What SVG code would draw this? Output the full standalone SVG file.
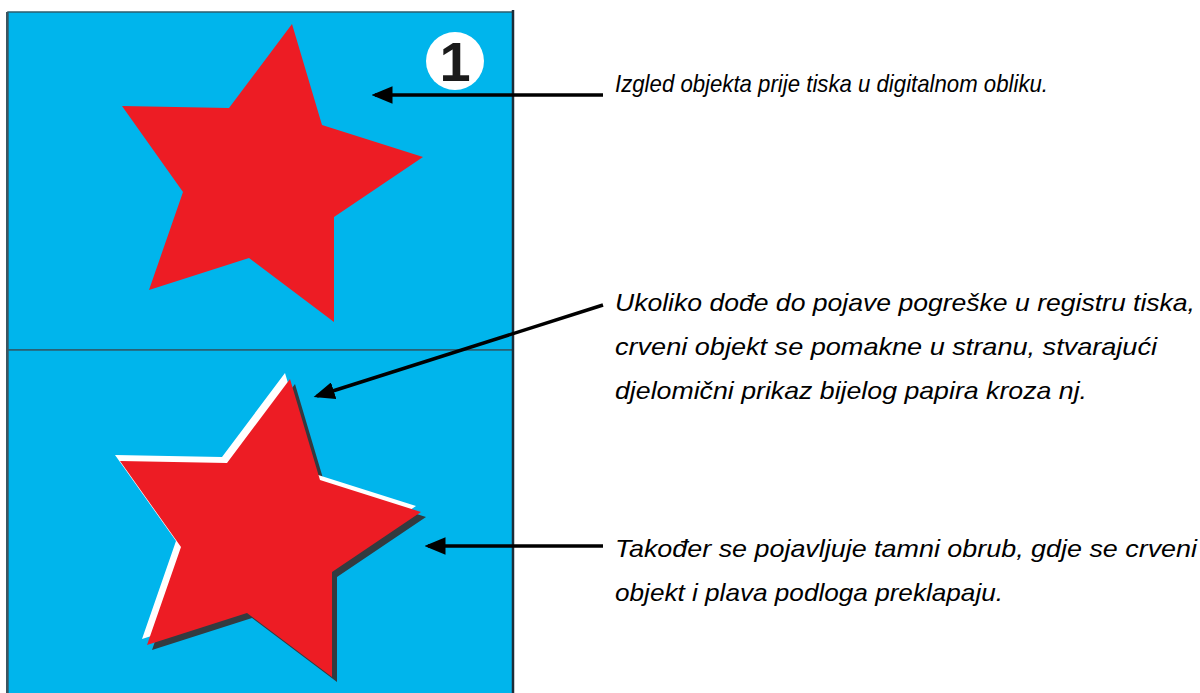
<svg xmlns="http://www.w3.org/2000/svg" width="1200" height="693" viewBox="0 0 1200 693">
  <defs>
    <style>
      .lbl { font-family: "Liberation Sans", Arial, sans-serif; font-style: italic; font-size: 24px; fill: #000; }
      .con { stroke: #000; stroke-width: 3.5; fill: none; }
      .red { fill: #ed1c24; }
    </style>
    <marker id="ah" markerWidth="6" markerHeight="5" refX="5" refY="2.5" orient="auto" markerUnits="strokeWidth">
      <path d="M0,0 L6,2.5 L0,5 Z" fill="#000"/>
    </marker>
    <polygon id="star" points="292,24 322,125 423,157 334,217 334,322 249,258 149,290 183,192 122,106 229,108"/>
  </defs>
  <rect width="1200" height="693" fill="#fff"/>

  <g id="panel-top">
    <rect x="8" y="12" width="505" height="338" fill="#00b5ec" stroke="#2d5d6e" stroke-width="1.5"/>
    <use href="#star" class="red"/>
    <g id="badge">
      <circle cx="455" cy="61" r="29" fill="#fff"/>
      <text x="455" y="81" text-anchor="middle" font-family="Liberation Sans, Arial, sans-serif" font-weight="bold" font-size="56" fill="#1a1a1a">1</text>
    </g>
  </g>

  <g id="panel-bottom">
    <rect x="8" y="350" width="505" height="350" fill="#00b5ec" stroke="#2d5d6e" stroke-width="1.5"/>
    <g transform="translate(-2,355)">
      <use href="#star" transform="translate(5,5)" fill="#333b40"/>
      <use href="#star" transform="translate(-5,-6)" fill="#ffffff"/>
      <use href="#star" class="red"/>
    </g>
  </g>
  <line x1="513" y1="10" x2="513" y2="693" stroke="#1c2c38" stroke-width="2.5"/>
  <line x1="7" y1="12" x2="7" y2="693" stroke="#3d5560" stroke-width="2"/>

  <g id="connectors">
    <line class="con" x1="603" y1="95" x2="375" y2="95" marker-end="url(#ah)"/>
    <line class="con" x1="603" y1="305" x2="317" y2="396" marker-end="url(#ah)"/>
    <line class="con" x1="603" y1="546" x2="428" y2="546" marker-end="url(#ah)"/>
  </g>

  <g id="label-1">
    <text class="lbl" x="615" y="92" textLength="433" lengthAdjust="spacingAndGlyphs">Izgled objekta prije tiska u digitalnom obliku.</text>
  </g>
  <g id="label-2">
    <text class="lbl" x="615" y="311" textLength="580" lengthAdjust="spacingAndGlyphs">Ukoliko dođe do pojave pogreške u registru tiska,</text>
    <text class="lbl" x="615" y="355" textLength="542" lengthAdjust="spacingAndGlyphs">crveni objekt se pomakne u stranu, stvarajući</text>
    <text class="lbl" x="615" y="399" textLength="472" lengthAdjust="spacingAndGlyphs">djelomični prikaz bijelog papira kroza nj.</text>
  </g>
  <g id="label-3">
    <text class="lbl" x="615" y="557" textLength="582" lengthAdjust="spacingAndGlyphs">Također se pojavljuje tamni obrub, gdje se crveni</text>
    <text class="lbl" x="615" y="601" textLength="388" lengthAdjust="spacingAndGlyphs">objekt i plava podloga preklapaju.</text>
  </g>
</svg>
